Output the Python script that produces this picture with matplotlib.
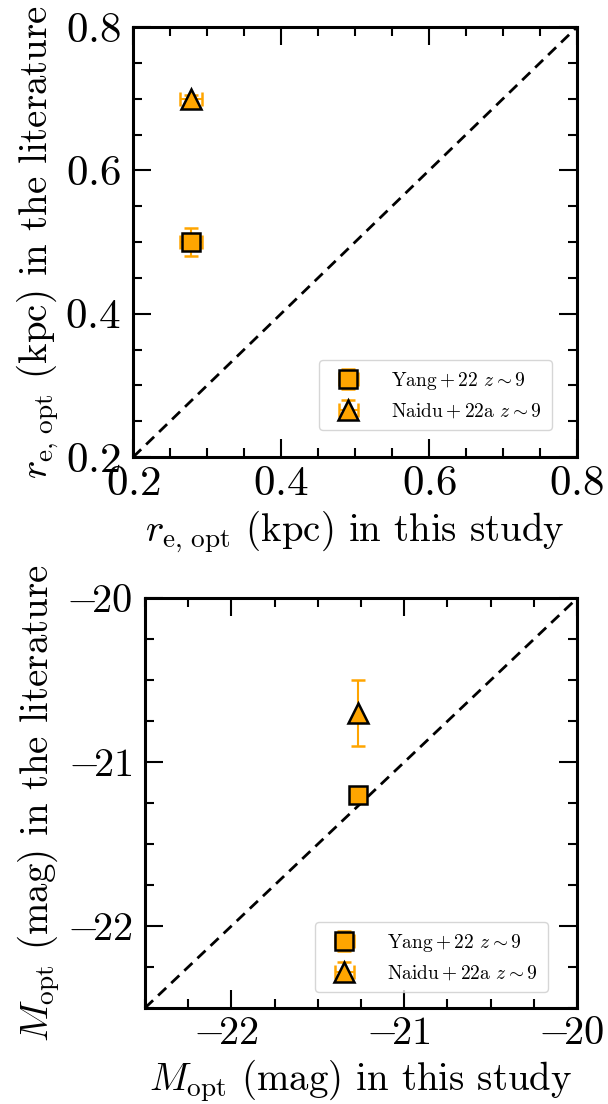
import numpy as np
import matplotlib
matplotlib.use('Agg')
import matplotlib.pyplot as plt
from matplotlib.ticker import MultipleLocator, FuncFormatter
from matplotlib.transforms import ScaledTranslation

plt.rcParams['font.family'] = 'serif'
plt.rcParams['font.serif'] = ['cmr10']
plt.rcParams['mathtext.fontset'] = 'cm'
plt.rcParams['axes.formatter.use_mathtext'] = True

# sizes (kpc): this study vs literature
re_yang = [0.278, 0.50]
re_yang_err = [0.015, 0.02]
re_naidu = [0.278, 0.70]
re_naidu_err = [0.015, 0.005]

# optical absolute magnitudes
m_yang = [-21.27, -21.20]
m_yang_err = [0.0, 0.0]
m_naidu = [-21.27, -20.70]
m_naidu_err = [0.0, 0.20]

labels = [r'$\rm Yang+22$ $z\sim9$', r'$\rm Naidu+22a$ $z\sim9$']

fig = plt.figure(figsize=(6.08, 11.04), dpi=100)
ax1 = fig.add_axes([0.219, 0.586, 0.730, 0.3895])
ax2 = fig.add_axes([0.2385, 0.087, 0.7105, 0.371])


def style(ax, major, minor, size):
    ax.xaxis.set_major_locator(MultipleLocator(major))
    ax.yaxis.set_major_locator(MultipleLocator(major))
    ax.xaxis.set_minor_locator(MultipleLocator(minor))
    ax.yaxis.set_minor_locator(MultipleLocator(minor))
    ax.tick_params(which='both', direction='in', top=True, right=True,
                   labelsize=size, width=1.5)
    ax.tick_params(axis='x', pad=6)
    ax.tick_params(axis='y', pad=9)
    ax.tick_params(which='major', length=13)
    ax.tick_params(which='minor', length=6.5)
    for s in ax.spines.values():
        s.set_linewidth(2.2)


def draw(ax, yang, yerr_yang, naidu, yerr_naidu, lo, hi, anchor):
    ax.plot([lo, hi], [lo, hi], ls='--', color='k', lw=2, dashes=(4, 2.5))
    ax.errorbar(yang[0], yang[1], xerr=yerr_yang[0], yerr=yerr_yang[1],
                fmt='s', ms=13, mfc='orange', mec='k', mew=1.8,
                ecolor='orange', elinewidth=1.5, capsize=5, label=labels[0])
    ax.errorbar(naidu[0], naidu[1], xerr=yerr_naidu[0], yerr=yerr_naidu[1],
                fmt='^', ms=15, mfc='orange', mec='k', mew=1.8,
                ecolor='orange', elinewidth=1.5, capsize=5, label=labels[1])
    ax.set_xlim(lo, hi)
    ax.set_ylim(lo, hi)
    ax.legend(loc='lower right', fontsize=14, borderpad=0.5,
              handletextpad=1.2, bbox_to_anchor=anchor)


draw(ax1, re_yang, re_yang_err, re_naidu, re_naidu_err, 0.2, 0.8, (0.965, 0.04))
style(ax1, 0.2, 0.05, 31)
ax1.set_xlabel(r'$r_{\rm e,\,opt}$ (kpc) in this study', fontsize=28, labelpad=4)
ax1.set_ylabel(r'$r_{\rm e,\,opt}$ (kpc) in the literature', fontsize=28, labelpad=3)

draw(ax2, m_yang, m_yang_err, m_naidu, m_naidu_err, -22.5, -20, (0.955, 0.015))
style(ax2, 1, 0.25, 29)
# tighter minus sign on magnitude ticks
mag_fmt = FuncFormatter(lambda v, p: r'$-\!%d$' % round(abs(v)))
ax2.xaxis.set_major_formatter(mag_fmt)
ax2.yaxis.set_major_formatter(mag_fmt)
shift = ScaledTranslation(-4 / 72, 0, fig.dpi_scale_trans)
for lab in ax2.get_xticklabels():
    lab.set_transform(lab.get_transform() + shift)
ax2.set_xlabel(r'$M_{\rm opt}$ (mag) in this study', fontsize=28, labelpad=4)
ax2.set_ylabel(r'$M_{\rm opt}$ (mag) in the literature', fontsize=28, labelpad=3)

fig.savefig('out.png', dpi=100)
